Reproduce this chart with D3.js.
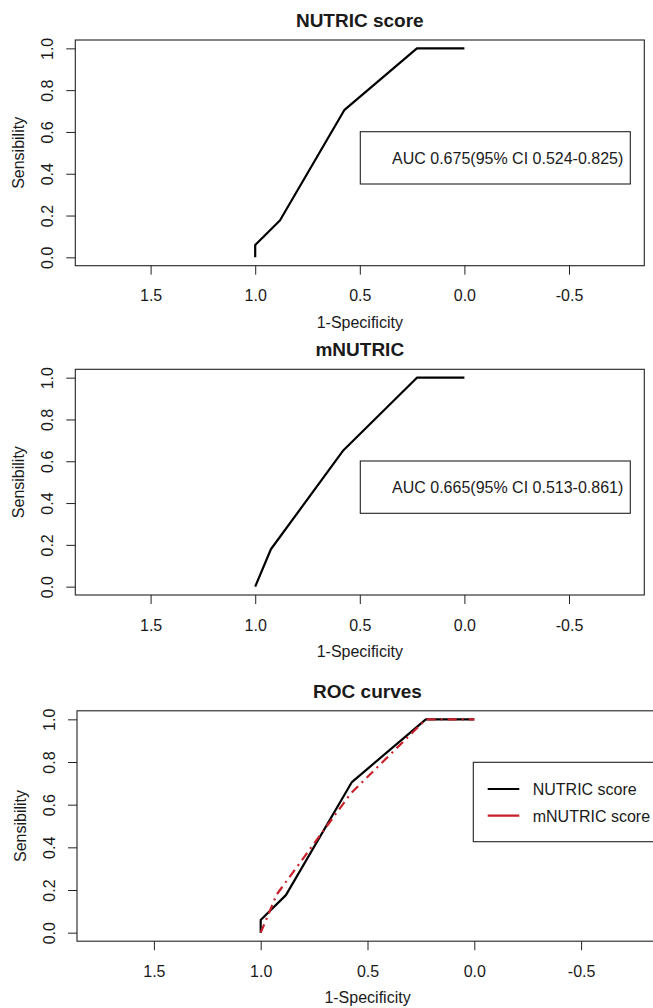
<!DOCTYPE html>
<html>
<head>
<meta charset="utf-8">
<script src="https://cdn.jsdelivr.net/npm/d3@7"></script>
<style>
  body { margin: 0; background: #fff; }
  text { font-family: "Liberation Sans", Arial, Helvetica, sans-serif; fill: #1a1a1a; }
</style>
</head>
<body>
<svg width="653" height="1008"></svg>
<script>
// ROC points (x axis = specificity, drawn reversed; y = sensitivity)
var nutricX = [1.0, 1.0, 0.882, 0.573, 0.227, 0.0];
var nutricY = [0.0, 0.059, 0.176, 0.706, 1.0, 1.0];
var mnutricX = [1.0, 0.925, 0.578, 0.227, 0.0];
var mnutricY = [0.0, 0.179, 0.653, 1.0, 1.0];

var xTicks = [1.5, 1.0, 0.5, 0.0, -0.5];
var yTicks = [0.0, 0.2, 0.4, 0.6, 0.8, 1.0];

var titles = ["NUTRIC score", "mNUTRIC", "ROC curves"];
var aucLabels = ["AUC 0.675(95% CI 0.524-0.825)", "AUC 0.665(95% CI 0.513-0.861)"];
var legendNames = ["NUTRIC score", "mNUTRIC score"];

var red = "#c8202a";

var svg = d3.select("svg");
svg.append("rect").attr("width", 653).attr("height", 1008).attr("fill", "#fff");

function toPts(xs, ys) {
  return xs.map(function(d, i) { return [d, ys[i]]; });
}

// one panel = box + axes + title; returns scales
function panel(left, top, right, bottom, title) {
  var g = svg.append("g");
  var x = d3.scaleLinear().domain([1.86, -0.86]).range([left, right]);
  var y = d3.scaleLinear().domain([-0.04, 1.04]).range([bottom, top]);

  var fmt = function(d) { return d.toFixed(1); };

  var xa = g.append("g")
      .attr("transform", "translate(0," + bottom + ")")
      .call(d3.axisBottom(x).tickValues(xTicks).tickSize(9).tickFormat(fmt));
  xa.select(".domain").remove();
  xa.selectAll("line").attr("stroke", "#222");
  xa.selectAll("text")
      .attr("y", 35.5).attr("dy", 0)
      .style("font-size", "16px").style("font-family", null).attr("fill", "#1a1a1a");

  var ya = g.append("g")
      .attr("transform", "translate(" + left + ",0)")
      .call(d3.axisLeft(y).tickValues(yTicks).tickSize(9).tickFormat(fmt));
  ya.select(".domain").remove();
  ya.selectAll("line").attr("stroke", "#222");
  ya.selectAll("text")
      .attr("transform", "rotate(-90)")
      .attr("x", 0).attr("y", -22).attr("dy", 0)
      .attr("text-anchor", "middle")
      .style("font-size", "16px").style("font-family", null).attr("fill", "#1a1a1a");

  g.append("rect")
      .attr("x", left).attr("y", top)
      .attr("width", right - left).attr("height", bottom - top)
      .attr("fill", "none").attr("stroke", "#222").attr("stroke-width", 1.1);

  var cx = (left + right) / 2;
  g.append("text")
      .attr("x", cx).attr("y", top - 13)
      .attr("text-anchor", "middle")
      .style("font-size", "19px").style("font-weight", "bold")
      .text(title);

  g.append("text")
      .attr("x", cx).attr("y", bottom + 62)
      .attr("text-anchor", "middle")
      .style("font-size", "16px")
      .text("1-Specificity");

  g.append("text")
      .attr("transform", "translate(" + (left - 51) + "," + ((top + bottom) / 2) + ") rotate(-90)")
      .attr("text-anchor", "middle")
      .style("font-size", "16px")
      .text("Sensibility");

  return { g: g, x: x, y: y, left: left, top: top, right: right, bottom: bottom };
}

function curve(p, pts, color, dash) {
  var line = d3.line().x(function(d) { return p.x(d[0]); }).y(function(d) { return p.y(d[1]); });
  p.g.append("path")
      .datum(pts)
      .attr("d", line)
      .attr("fill", "none")
      .attr("stroke", color)
      .attr("stroke-width", 2.2)
      .attr("stroke-linejoin", "round")
      .attr("stroke-dasharray", dash || null);
}

function aucBox(p, label) {
  var bx = p.right - 284, by = p.top + 91.7;
  p.g.append("rect")
      .attr("x", bx).attr("y", by).attr("width", 270).attr("height", 52.3)
      .attr("fill", "#fff").attr("stroke", "#222").attr("stroke-width", 1.1);
  p.g.append("text")
      .attr("x", bx + 263).attr("y", by + 32.3)
      .attr("text-anchor", "end")
      .style("font-size", "16px")
      .text(label);
}

// panel 1
var p1 = panel(75.3, 40, 644.3, 265.7, titles[0]);
curve(p1, toPts(nutricX, nutricY), "#000");
aucBox(p1, aucLabels[0]);

// panel 2
var p2 = panel(75.3, 369.3, 644.3, 595, titles[1]);
curve(p2, toPts(mnutricX, mnutricY), "#000");
aucBox(p2, aucLabels[1]);

// panel 3
var p3 = panel(77, 710.8, 658, 941.2, titles[2]);
curve(p3, toPts(nutricX, nutricY), "#000");
curve(p3, toPts(mnutricX, mnutricY), red, "9,5,2,5");

var lg = p3.g.append("g");
var lx = p3.left + 396.3, ly = p3.top + 51.5;
lg.append("rect")
    .attr("x", lx).attr("y", ly).attr("width", 260).attr("height", 79.4)
    .attr("fill", "#fff").attr("stroke", "#222").attr("stroke-width", 1.1);
var legColors = ["#000", red];
legendNames.forEach(function(name, i) {
  var cy = ly + 26.7 + i * 26.7;
  lg.append("line")
      .attr("x1", lx + 14.4).attr("x2", lx + 46)
      .attr("y1", cy).attr("y2", cy)
      .attr("stroke", legColors[i]).attr("stroke-width", 2.2);
  lg.append("text")
      .attr("x", lx + 59.4).attr("y", cy + 5.8)
      .style("font-size", "16px")
      .text(name);
});
</script>
</body>
</html>
